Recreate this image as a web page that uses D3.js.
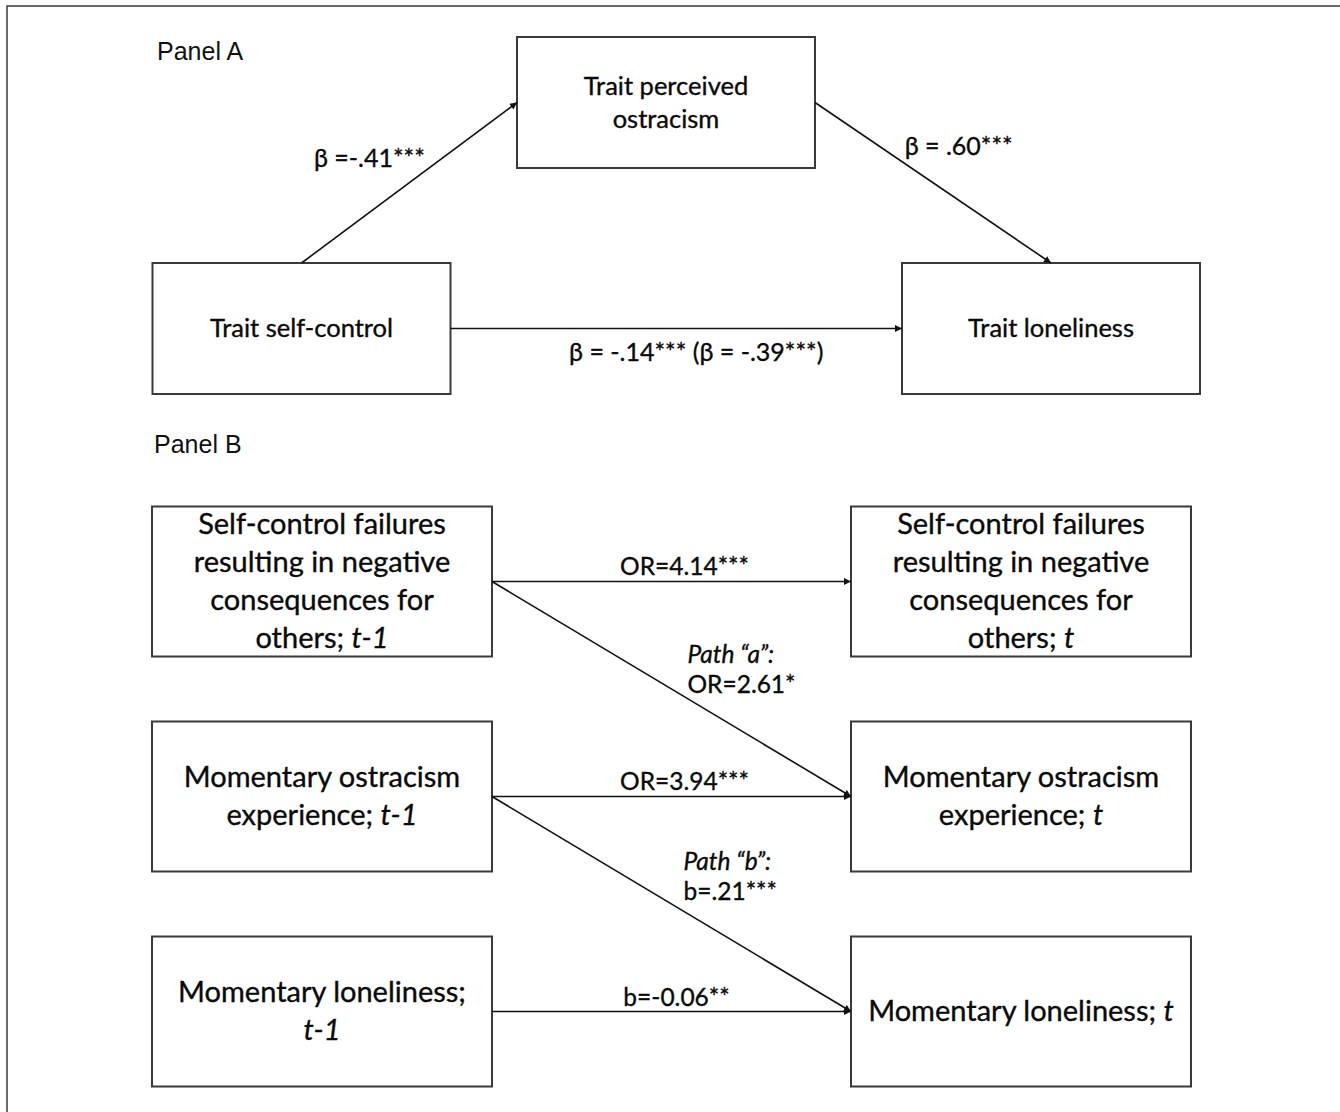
<!DOCTYPE html>
<html>
<head>
<meta charset="utf-8">
<script src="https://cdn.jsdelivr.net/npm/d3@7"></script>
<style>
  html, body { margin: 0; padding: 0; background: #fff; }
  svg { display: block; }
  .box { fill: #fff; stroke: #3a3a3a; stroke-width: 2; }
  .edge { stroke: #111; stroke-width: 1.6; fill: none; }
  .node-text, .edge-text { font-family: Lato, "Open Sans", sans-serif; fill: #0a0a0a; stroke: #0a0a0a; stroke-width: 0.35; }
  .panel-title { font-family: "Liberation Sans", Arial, sans-serif; fill: #111; }
</style>
</head>
<body>
<div id="chart"></div>
<script>
// -----------------------------
// data: node labels (_x_ = italic part) and paths
// -----------------------------
const panelTitles = ["Panel A", "Panel B"];

const nodesA = [
  { id: "sc", lines: ["Trait self-control"], col: "left", row: "bottom" },
  { id: "po", lines: ["Trait perceived", "ostracism"], col: "mid", row: "top" },
  { id: "lo", lines: ["Trait loneliness"], col: "right", row: "bottom" }
];

const edgesA = [
  { from: "sc", to: "po", fromSide: "top", toSide: "left", label: ["β =-.41***"] },
  { from: "po", to: "lo", fromSide: "right", toSide: "top", label: ["β = .60***"] },
  { from: "sc", to: "lo", fromSide: "right", toSide: "left", label: ["β = -.14*** (β = -.39***)"] }
];

const nodesB = [
  { id: "scf1", lines: ["Self-control failures", "resulting in negative", "consequences for", "others; _t-1_"], col: "t-1", row: 0 },
  { id: "os1", lines: ["Momentary ostracism", "experience; _t-1_"], col: "t-1", row: 1 },
  { id: "lo1", lines: ["Momentary loneliness;", "_t-1_"], col: "t-1", row: 2 },
  { id: "scf", lines: ["Self-control failures", "resulting in negative", "consequences for", "others; _t_"], col: "t", row: 0 },
  { id: "os", lines: ["Momentary ostracism", "experience; _t_"], col: "t", row: 1 },
  { id: "lo", lines: ["Momentary loneliness; _t_"], col: "t", row: 2 }
];

const edgesB = [
  { from: "scf1", to: "scf", label: ["OR=4.14***"] },
  { from: "scf1", to: "os", label: ["_Path “a”:_", "OR=2.61*"] },
  { from: "os1", to: "os", label: ["OR=3.94***"] },
  { from: "os1", to: "lo", label: ["_Path “b”:_", "b=.21***"] },
  { from: "lo1", to: "lo", label: ["b=-0.06**"] }
];

// label placement along each edge (fraction t, offsets)
const labelPosA = [
  { t: 0.6, dx: -6, dy: 0, anchor: "end" },
  { t: 0.325, dx: 13, dy: 0, anchor: "start" },
  { t: 0.5, dx: 20, dy: 32, anchor: "middle" }
];
const labelPosB = [
  { t: 0.5, dx: 13, dy: -7, anchor: "middle" },
  { t: 0.5, dx: 16, dy: -26, anchor: "start" },
  { t: 0.5, dx: 13, dy: -7, anchor: "middle" },
  { t: 0.5, dx: 12, dy: -34, anchor: "start" },
  { t: 0.5, dx: 5, dy: -6, anchor: "middle" }
];

// -----------------------------
// layout
// -----------------------------
const W = 1340, H = 1112;

const svg = d3.select("#chart").append("svg")
  .attr("width", W)
  .attr("height", H)
  .attr("viewBox", `0 0 ${W} ${H}`);

svg.append("defs").append("marker")
  .attr("id", "arrow")
  .attr("viewBox", "0 0 10 10")
  .attr("refX", 10)
  .attr("refY", 5)
  .attr("markerUnits", "userSpaceOnUse")
  .attr("markerWidth", 9)
  .attr("markerHeight", 7)
  .attr("orient", "auto")
  .append("path")
  .attr("d", "M0,0 L10,5 L0,10 Z")
  .attr("fill", "#111");

// outer frame (right and bottom run off the page)
svg.append("rect")
  .attr("x", 7).attr("y", 6)
  .attr("width", W + 40).attr("height", H + 40)
  .attr("fill", "none")
  .attr("stroke", "#3a3a3a")
  .attr("stroke-width", 1.5);

// Panel A scales
const xA = d3.scaleOrdinal().domain(["left", "mid", "right"]).range([301.5, 666, 1051]);
const yA = d3.scaleOrdinal().domain(["top", "bottom"]).range([102.5, 328.5]);
const boxA = { w: 298, h: 131, font: 25.5, lineH: 33, labelFont: 25, labelLineH: 29 };

// Panel B scales
const xB = d3.scaleOrdinal().domain(["t-1", "t"]).range([322, 1021]);
const yB = d3.scaleLinear().domain([0, 2]).range([581.5, 1011.5]);
const boxB = { w: 340, h: 150, font: 29, lineH: 38, labelFont: 24.5, labelLineH: 30 };

function sidePoint(n, side, box) {
  if (side === "top") return [n.cx, n.cy - box.h / 2];
  if (side === "bottom") return [n.cx, n.cy + box.h / 2];
  if (side === "left") return [n.cx - box.w / 2, n.cy];
  return [n.cx + box.w / 2, n.cy];
}

// write text with _italic_ segments
function richText(sel, str) {
  const parts = str.split("_");
  parts.forEach((p, i) => {
    if (!p) return;
    sel.append("tspan").text(p).attr("font-style", i % 2 ? "italic" : null);
  });
}

function drawPanel(nodes, edges, labelPos, xs, ys, box, g) {
  nodes.forEach(n => { n.cx = xs(n.col); n.cy = ys(n.row); });
  const byId = new Map(nodes.map(n => [n.id, n]));

  g.selectAll(".box")
    .data(nodes)
    .join("rect")
    .attr("class", "box")
    .attr("x", d => d.cx - box.w / 2)
    .attr("y", d => d.cy - box.h / 2)
    .attr("width", box.w)
    .attr("height", box.h);

  nodes.forEach(n => {
    const off = (n.lines.length - 1) / 2;
    n.lines.forEach((ln, i) => {
      const t = g.append("text")
        .attr("class", "node-text")
        .attr("x", n.cx)
        .attr("y", n.cy + (i - off) * box.lineH)
        .attr("dy", "0.34em")
        .attr("text-anchor", "middle")
        .attr("font-size", box.font);
      richText(t, ln);
    });
  });

  edges.forEach((e, k) => {
    const a = byId.get(e.from), b = byId.get(e.to);
    const p0 = sidePoint(a, e.fromSide || "right", box);
    const p1 = sidePoint(b, e.toSide || "left", box);
    g.append("line")
      .attr("class", "edge")
      .attr("x1", p0[0]).attr("y1", p0[1])
      .attr("x2", p1[0]).attr("y2", p1[1])
      .attr("marker-end", "url(#arrow)");

    const lp = labelPos[k];
    const lx = p0[0] + (p1[0] - p0[0]) * lp.t + lp.dx;
    const ly = p0[1] + (p1[1] - p0[1]) * lp.t + lp.dy;
    e.label.forEach((ln, i) => {
      const t = g.append("text")
        .attr("class", "edge-text")
        .attr("x", lx)
        .attr("y", ly + i * box.labelLineH)
        .attr("text-anchor", lp.anchor)
        .attr("font-size", box.labelFont);
      richText(t, ln);
    });
  });
}

const gA = svg.append("g");
const gB = svg.append("g");
drawPanel(nodesA, edgesA, labelPosA, xA, yA, boxA, gA);
drawPanel(nodesB, edgesB, labelPosB, xB, yB, boxB, gB);

// panel titles
svg.selectAll(".panel-title")
  .data(panelTitles)
  .join("text")
  .attr("class", "panel-title")
  .attr("x", (d, i) => i ? 154 : 157)
  .attr("y", (d, i) => i ? 453 : 60)
  .attr("font-size", 25)
  .text(d => d);
</script>
</body>
</html>
